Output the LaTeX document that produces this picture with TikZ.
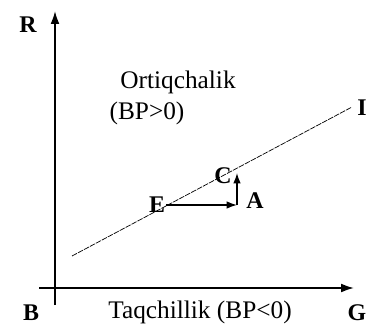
\documentclass[tikz,border=0pt]{standalone}
\usepackage{fontspec}
\setmainfont{Liberation Serif}
\usepackage{tikz}
\usetikzlibrary{arrows.meta}
\tikzset{
  axisline/.style={line width=1.3pt, -{Latex[length=3.2mm,width=2.2mm]}},
  bpline/.style={line width=0.5pt, dash pattern=on 4pt off 0.8pt},
  movearrow/.style={line width=1pt, -{Latex[length=2.6mm,width=1.9mm]}},
  ptlabel/.style={font=\fontsize{17}{19}\selectfont\bfseries, inner sep=0pt},
  zonetext/.style={font=\fontsize{18}{20}\selectfont, inner sep=0pt}
}

\begin{document}
\begin{tikzpicture}[x=0.025cm, y=-0.025cm]
        \useasboundingbox (0,0) rectangle (367,327);

        % axes
        \coordinate (ybot) at (55,305);
        \coordinate (ytop) at (55,11);
        \coordinate (xleft) at (39,288);
        \coordinate (xright) at (354,288);
        \draw[axisline] (ybot) -- (ytop);
        \draw[axisline] (xleft) -- (xright);

        \node[ptlabel] (labR) at (28,25) {R};
        \node[ptlabel] (labB) at (31,313) {B};
        \node[ptlabel] (labG) at (357,313) {G};

        % BP line
        \coordinate (bp1) at (72,256);
        \coordinate (bp2) at (352,107);
        \draw[bpline] (bp1) -- (bp2);
        \node[ptlabel] (labI) at (362,108) {I};

        % move E -> A -> C
        \coordinate (pE) at (166,205);
        \coordinate (pA) at (237,205);
        \coordinate (pC) at (237,173);
        \draw[movearrow] (pE) -- (pA);
        \draw[movearrow] (pA) -- (pC);

        \node[ptlabel] (labE) at (157,205) {E};
        \node[ptlabel] (labA) at (255,201) {A};
        \node[ptlabel] (labC) at (223,176) {C};

        \node[zonetext] (surplus) at (178,82) {Ortiqchalik};
        \node[zonetext] (surplusbp) at (147,113) {(BP>0)};
        \node[zonetext] (deficit) at (200,312) {Taqchillik (BP<0)};
      \end{tikzpicture}
\end{document}
